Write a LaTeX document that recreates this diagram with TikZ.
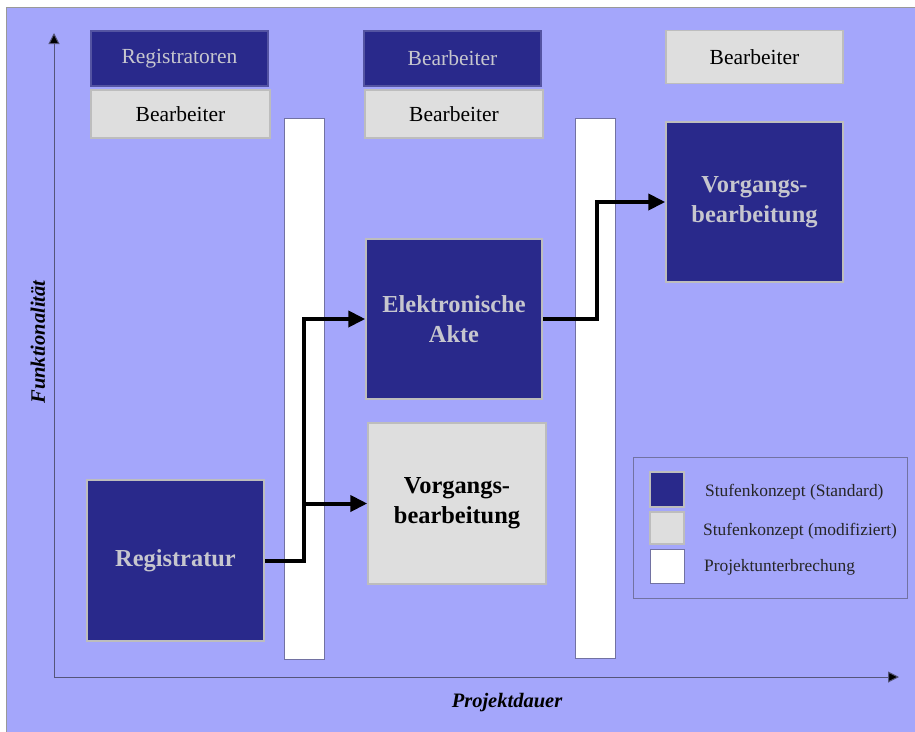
\documentclass[tikz,border=0pt]{standalone}
\usepackage{fontspec}
\setmainfont{Liberation Serif}
\usetikzlibrary{arrows.meta}
\definecolor{bgblue}{HTML}{A4A6FB}
\definecolor{darkbox}{HTML}{29298B}
\definecolor{lightbox}{HTML}{DEDEDE}
\definecolor{lightedge}{HTML}{BDBDBD}
\definecolor{darktext}{HTML}{C6C6CE}
\definecolor{baredge}{HTML}{7272A2}
\definecolor{axisline}{HTML}{55557A}
\tikzset{
  box/.style={rectangle, inner sep=0pt, align=center},
  darkstd/.style={box, fill=darkbox, draw=#1, line width=1.5pt, text=darktext},
  darkstd/.default={lightedge},
  lightmod/.style={box, fill=lightbox, draw=lightedge, line width=1.5pt, text=black},
  pausebar/.style={box, fill=white, draw=baredge, line width=0.8pt},
  role/.style={font=\fontsize{21.5}{25}\selectfont},
  stage/.style={font=\fontsize{24.4}{30}\selectfont\bfseries},
  flow/.style={line width=4pt, black, -{Triangle[length=17pt,width=16pt]}},
  axis/.style={line width=1pt, axisline, -{Triangle[length=11pt,width=11pt,fill=black]}},
  legtext/.style={anchor=west, inner sep=0pt, font=\fontsize{17.4}{20}\selectfont, text=black!85},
  axlabel/.style={inner sep=0pt, font=\fontsize{20.5}{24}\selectfont\bfseries\itshape}
}
\begin{document}
\begin{tikzpicture}[x=1pt,y=-1pt]
\useasboundingbox (0,0) rectangle (915,731);
% background panel
\fill[white] (0,0) rectangle (915,731);
\filldraw[fill=bgblue, draw=gray!80, line width=1pt] (6,7) rectangle (916,732);

% axes
\coordinate (origin) at (54,677);
\coordinate (ytip) at (54,33);
\coordinate (xtip) at (899,677);
\draw[axis] (origin) -- (ytip);
\draw[axis] (origin) -- (xtip);
\node[axlabel, rotate=90] (ylab) at (38,342) {Funktionalität};
\node[axlabel] (xlab) at (507,703) {Projektdauer};

% project interruptions
\node[pausebar, minimum width=40pt, minimum height=541pt] (bar1) at (304,388.5) {};
\node[pausebar, minimum width=40pt, minimum height=540pt] (bar2) at (595,388) {};

% roles above each stage
\node[darkstd={darkbox!80!white}, role, minimum width=177pt, minimum height=55pt] (regA) at (179.5,58.5) {Registratoren};
\node[lightmod, role, minimum width=179pt, minimum height=48pt] (bearA) at (180.5,114) {Bearbeiter};
\node[darkstd={darkbox!80!white}, role, minimum width=177pt, minimum height=55pt] (bearB) at (452.5,58.5) {Bearbeiter};
\node[lightmod, role, minimum width=178pt, minimum height=48pt] (bearC) at (454,114) {Bearbeiter};
\node[lightmod, role, minimum width=177pt, minimum height=53pt] (bearD) at (754.5,57) {Bearbeiter};

% stages
\node[darkstd, stage, minimum width=177pt, minimum height=161pt] (regis) at (175.5,560.5) {Registratur};
\node[darkstd, stage, minimum width=176pt, minimum height=160pt] (akte) at (454,319) {Elektronische\\Akte};
\node[lightmod, stage, minimum width=178pt, minimum height=161pt] (vorgL) at (457,503.5) {Vorgangs-\\bearbeitung};
\node[darkstd, stage, minimum width=177pt, minimum height=160pt] (vorgD) at (754.5,202) {Vorgangs-\\bearbeitung};

% transitions between stages
\draw[flow] (regis.east) -- (regis.east -| bar1.center) |- (akte.west);
\draw[flow] (vorgL.west -| bar1.center) -- (vorgL.west);
\draw[flow] (akte.east) -- ([xshift=2pt]akte.east -| bar2.center) |- (vorgD.west);

% legend
\node[box, draw=baredge, line width=0.8pt, minimum width=274pt, minimum height=141pt] (legend) at (770,527.5) {};
\node[darkstd, minimum width=34pt, minimum height=35pt] (swStd) at (667,489.5) {};
\node[lightmod, minimum width=34pt, minimum height=32pt] (swMod) at (667,528) {};
\node[pausebar, minimum width=34pt, minimum height=34pt] (swBrk) at (667,566) {};
\node[legtext] (ltStd) at (705,492) {Stufenkonzept (Standard)};
\node[legtext] (ltMod) at (703,531) {Stufenkonzept (modifiziert)};
\node[legtext] (ltBrk) at (704,567) {Projektunterbrechung};
\end{tikzpicture}
\end{document}
